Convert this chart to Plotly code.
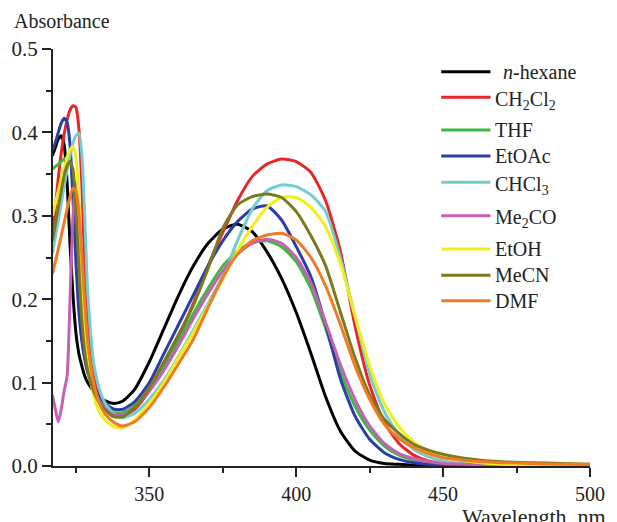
import plotly.graph_objects as go

# ---- data ----
wavelength = [317, 318, 319, 320, 321, 322, 323, 324, 325, 326, 327, 328, 329,
              331, 333, 335, 338, 341, 345, 350, 355, 360, 365, 370, 375, 380,
              385, 390, 395, 400, 405, 410, 415, 420, 425, 430, 435, 440, 445,
              450, 460, 470, 480, 490, 500]

hexane = [0.372, 0.382, 0.392, 0.396, 0.385, 0.340, 0.265, 0.205, 0.160, 0.135, 0.120, 0.108, 0.100,
          0.090, 0.083, 0.078, 0.075, 0.078, 0.092, 0.125, 0.165, 0.205, 0.240, 0.267, 0.284, 0.290,
          0.281, 0.257, 0.225, 0.184, 0.135, 0.083, 0.042, 0.018, 0.007, 0.003, 0.002, 0.001, 0.000,
          0.000, 0.000, 0.000, 0.000, 0.000, 0.000]
ch2cl2 = [0.280, 0.310, 0.345, 0.375, 0.398, 0.415, 0.427, 0.432, 0.430, 0.405, 0.340, 0.240, 0.170,
          0.110, 0.085, 0.072, 0.062, 0.060, 0.068, 0.090, 0.120, 0.155, 0.195, 0.240, 0.280, 0.318,
          0.347, 0.362, 0.368, 0.365, 0.352, 0.318, 0.258, 0.168, 0.097, 0.052, 0.027, 0.013, 0.006,
          0.003, 0.001, 0.000, 0.000, 0.000, 0.000]
thf = [0.356, 0.359, 0.362, 0.365, 0.368, 0.370, 0.368, 0.345, 0.290, 0.220, 0.165, 0.132, 0.113,
       0.092, 0.080, 0.071, 0.064, 0.064, 0.072, 0.092, 0.118, 0.150, 0.183, 0.213, 0.240, 0.258,
       0.268, 0.270, 0.263, 0.245, 0.213, 0.165, 0.113, 0.072, 0.043, 0.024, 0.013, 0.007, 0.004,
       0.002, 0.001, 0.000, 0.000, 0.000, 0.000]
etoac = [0.378, 0.388, 0.400, 0.411, 0.417, 0.412, 0.385, 0.320, 0.245, 0.185, 0.150, 0.128, 0.113,
         0.095, 0.083, 0.075, 0.068, 0.068, 0.077, 0.100, 0.135, 0.170, 0.205, 0.240, 0.270, 0.293,
         0.308, 0.312, 0.295, 0.263, 0.227, 0.170, 0.105, 0.060, 0.032, 0.016, 0.008, 0.004, 0.002,
         0.001, 0.000, 0.000, 0.000, 0.000, 0.000]
chcl3 = [0.255, 0.275, 0.295, 0.315, 0.335, 0.355, 0.372, 0.387, 0.396, 0.399, 0.375, 0.300, 0.210,
         0.125, 0.092, 0.075, 0.062, 0.058, 0.063, 0.080, 0.103, 0.132, 0.163, 0.195, 0.228, 0.270,
         0.308, 0.330, 0.337, 0.335, 0.325, 0.305, 0.250, 0.180, 0.110, 0.065, 0.037, 0.020, 0.011,
         0.006, 0.002, 0.001, 0.000, 0.000, 0.000]
me2co = [0.085, 0.068, 0.053, 0.068, 0.090, 0.108, 0.200, 0.300, 0.340, 0.310, 0.235, 0.170, 0.130,
         0.095, 0.078, 0.068, 0.061, 0.061, 0.070, 0.090, 0.115, 0.145, 0.177, 0.207, 0.234, 0.254,
         0.267, 0.272, 0.267, 0.250, 0.220, 0.172, 0.122, 0.080, 0.048, 0.027, 0.015, 0.009, 0.005,
         0.003, 0.002, 0.001, 0.001, 0.001, 0.002]
etoh = [0.300, 0.315, 0.330, 0.345, 0.358, 0.370, 0.379, 0.383, 0.370, 0.320, 0.240, 0.170, 0.125,
        0.085, 0.065, 0.055, 0.047, 0.046, 0.055, 0.075, 0.100, 0.130, 0.160, 0.192, 0.224, 0.258,
        0.287, 0.310, 0.322, 0.322, 0.310, 0.287, 0.243, 0.180, 0.120, 0.075, 0.047, 0.029, 0.018,
        0.011, 0.005, 0.002, 0.001, 0.001, 0.001]
mecn = [0.270, 0.290, 0.310, 0.330, 0.348, 0.360, 0.365, 0.355, 0.310, 0.240, 0.175, 0.138, 0.115,
        0.090, 0.076, 0.067, 0.059, 0.059, 0.070, 0.094, 0.125, 0.158, 0.193, 0.237, 0.285, 0.313,
        0.323, 0.326, 0.322, 0.305, 0.276, 0.240, 0.185, 0.130, 0.085, 0.056, 0.039, 0.026, 0.019,
        0.014, 0.008, 0.005, 0.004, 0.003, 0.002]
dmf = [0.230, 0.245, 0.260, 0.276, 0.292, 0.308, 0.323, 0.333, 0.330, 0.305, 0.255, 0.195, 0.150,
       0.100, 0.075, 0.062, 0.052, 0.048, 0.053, 0.070, 0.095, 0.123, 0.152, 0.190, 0.226, 0.254,
       0.270, 0.277, 0.279, 0.271, 0.250, 0.216, 0.170, 0.120, 0.080, 0.050, 0.033, 0.022, 0.015,
       0.010, 0.006, 0.004, 0.003, 0.002, 0.002]

solvents = ["<i>n</i>-hexane", "CH<sub>2</sub>Cl<sub>2</sub>", "THF", "EtOAc",
            "CHCl<sub>3</sub>", "Me<sub>2</sub>CO", "EtOH", "MeCN", "DMF"]
series = [hexane, ch2cl2, thf, etoac, chcl3, me2co, etoh, mecn, dmf]
colors = ["#000000", "#e8262a", "#3fb83f", "#2a3ea6", "#72cdd0",
          "#c660b5", "#f2ee1a", "#7c7a1e", "#f07b25"]

x_ticks = [350, 400, 450, 500]
y_ticks = [0.0, 0.1, 0.2, 0.3, 0.4, 0.5]

# ---- layout geometry (pixels) ----
W, H = 617, 522
ML, MR, MT, MB = 53, 19, 49, 56
PW, PH = W - ML - MR, H - MT - MB


def px_x(p):
    return (p - ML) / PW


def px_y(p):
    return (H - MB - p) / PH


FONT = "Liberation Serif, Times New Roman, serif"
TXT = "#222222"

fig = go.Figure()
for name, ys, col in zip(solvents, series, colors):
    fig.add_trace(go.Scatter(
        x=wavelength, y=ys, mode="lines", name=name,
        line=dict(color=col, width=3, shape="spline", smoothing=0.6),
        showlegend=False, hoverinfo="skip"))

# manual legend (long line samples like the reference)
legend_rows = [71.7, 97.3, 130, 156, 182.3, 215.7, 249, 275.3, 300.7]
shapes = []
annotations = []
for i, (name, col, ry) in enumerate(zip(solvents, colors, legend_rows)):
    shapes.append(dict(type="line", xref="paper", yref="paper",
                       x0=px_x(447), x1=px_x(497), y0=px_y(ry), y1=px_y(ry),
                       line=dict(color=col, width=3)))
    has_sub = "<sub>" in name
    annotations.append(dict(
        text=name, xref="paper", yref="paper",
        x=px_x(508 if i == 0 else 500), y=px_y(ry),
        xanchor="left", yanchor="middle", showarrow=False,
        yshift=-3 if has_sub else 0,
        font=dict(family=FONT, size=20, color=TXT)))

annotations.append(dict(text="Absorbance", xref="paper", yref="paper",
                        x=px_x(11), y=px_y(21), xanchor="left", yanchor="middle",
                        showarrow=False, font=dict(family=FONT, size=20, color=TXT)))
annotations.append(dict(text="Wavelength, nm", xref="paper", yref="paper",
                        x=px_x(616), y=px_y(502), xanchor="right", yanchor="top",
                        showarrow=False, font=dict(family=FONT, size=22, color=TXT)))

fig.update_layout(
    width=W, height=H,
    margin=dict(l=ML, r=MR, t=MT, b=MB, pad=0),
    paper_bgcolor="white", plot_bgcolor="white",
    font=dict(family=FONT, size=20, color=TXT),
    shapes=shapes, annotations=annotations,
    xaxis=dict(range=[317.2, 500], tickvals=x_ticks, ticks="outside", ticklen=9,
               tickwidth=2, tickcolor=TXT, showline=True, linewidth=2, linecolor=TXT,
               showgrid=False, zeroline=False,
               tickfont=dict(family=FONT, size=20, color=TXT),
               minor=dict(dtick=25, tick0=325, ticks="outside", ticklen=5,
                          tickwidth=2, tickcolor=TXT, showgrid=False)),
    yaxis=dict(range=[0, 0.5], tickvals=y_ticks, tickformat=".1f", ticks="outside",
               ticklen=9, tickwidth=2, tickcolor=TXT, showline=True, linewidth=2,
               linecolor=TXT, showgrid=False, zeroline=False,
               tickfont=dict(family=FONT, size=21, color=TXT),
               minor=dict(dtick=0.05, tick0=0, ticks="outside", ticklen=5,
                          tickwidth=2, tickcolor=TXT, showgrid=False)),
)

# remove the page's default 8px body margin so the figure sits at (0, 0)
fig.write_html("out.html",
               config={"displayModeBar": False, "staticPlot": True},
               post_script="document.body.style.margin='0';"
                           "document.body.style.overflow='hidden';")
